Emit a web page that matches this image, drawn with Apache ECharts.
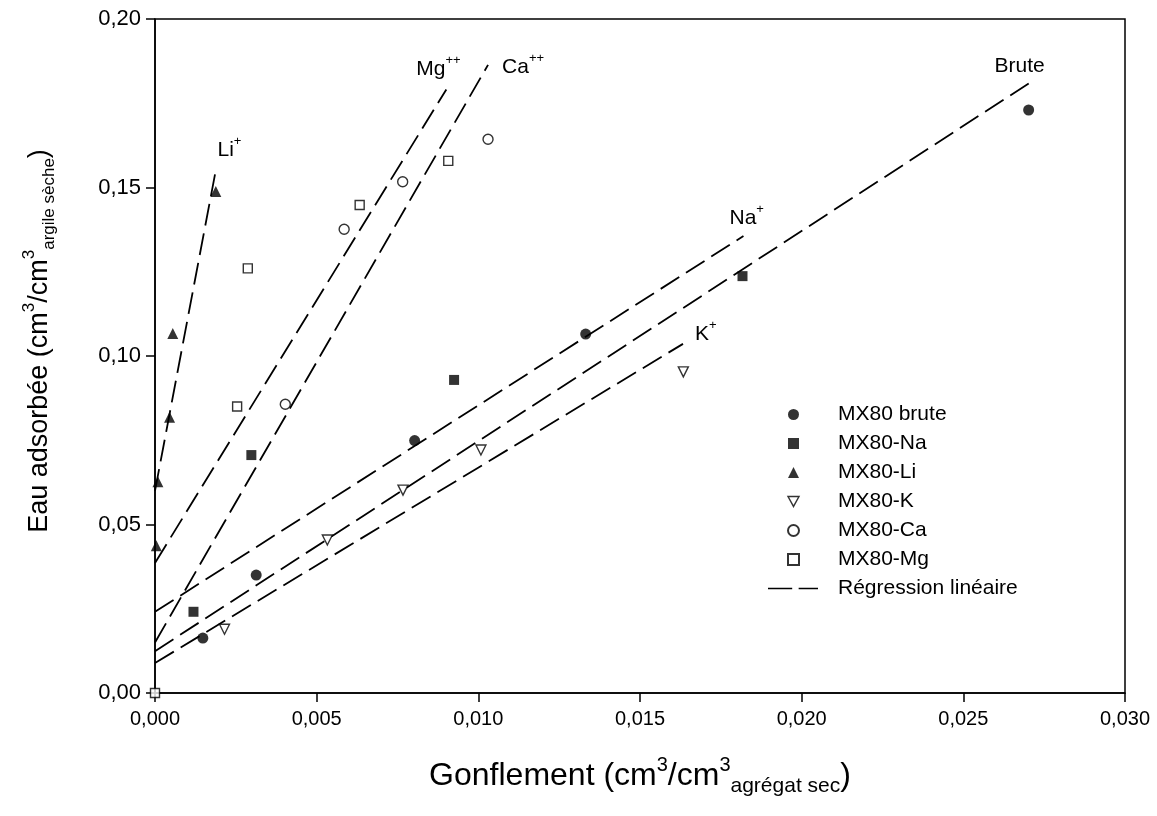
<!DOCTYPE html>
<html>
<head>
<meta charset="utf-8">
<script src="https://cdn.jsdelivr.net/npm/echarts@6/dist/echarts.min.js"></script>
<style>html,body{margin:0;padding:0;background:#fff}#c{width:1157px;height:816px}</style>
</head>
<body>
<div id="c"></div>
<script>
// --- data ---
const xTicks = [0, 0.005, 0.010, 0.015, 0.020, 0.025, 0.030];
const yTicks = [0, 0.05, 0.10, 0.15, 0.20];

const bruteData = [[0.00148,0.0163],[0.00313,0.0350],[0.00803,0.0749],[0.01332,0.1065],[0.02702,0.1730]];
const naData    = [[0.00119,0.0241],[0.00298,0.0706],[0.00925,0.0929],[0.01817,0.1237]];
const liData    = [[0.00004,0.0437],[0.00009,0.0627],[0.00045,0.0818],[0.00055,0.1067],[0.00188,0.1488]];
const kData     = [[0.00215,0.0189],[0.00533,0.0454],[0.00767,0.0602],[0.01008,0.0721],[0.01634,0.0953]];
const caData    = [[0.00403,0.0857],[0.00585,0.1376],[0.00766,0.1517],[0.01030,0.1643]];
const mgData    = [[0,0],[0.00254,0.0850],[0.00287,0.1260],[0.00633,0.1448],[0.00907,0.1579]];

// regression line endpoints (start, end)
const liFit    = [[0,0.0600],[0.00187,0.1546]];
const mgFit    = [[0,0.0386],[0.00901,0.1791]];
const caFit    = [[0,0.0150],[0.01030,0.1864]];
const naFit    = [[0,0.0241],[0.01820,0.1356]];
const bruteFit = [[0,0.0124],[0.02720,0.1820]];
const kFit     = [[0,0.0089],[0.01633,0.1036]];

const seriesNames = ['MX80 brute','MX80-Na','MX80-Li','MX80-K','MX80-Ca','MX80-Mg'];
const fitName = 'Régression linéaire';

const FONT = 'Liberation Sans, Arial, sans-serif';
const chart = echarts.init(document.getElementById('c'), null, {renderer:'canvas'});

function scatter(name, data, symbol, filled, size, rotate) {
  return {
    type:'scatter', name, data, symbol, symbolSize:size, symbolRotate: rotate||0,
    itemStyle: filled ? {color:'#000', borderColor:'#000', borderWidth:0}
                      : {color:'#fff', borderColor:'#000', borderWidth:1.4},
    z: 5
  };
}
const labelRich = {
  b:{fontSize:21, fontFamily:FONT, color:'#000', lineHeight:26, verticalAlign:'bottom'},
  s:{fontSize:13, fontFamily:FONT, color:'#000', lineHeight:26, verticalAlign:'top'}
};
function fit(data, label, offset) {
  return {
    type:'line', name: fitName, data, symbol:'none', silent:true,
    color:'#000',
    lineStyle:{color:'#000', width:1.8, type:[22,8]},
    z: 3,
    endLabel:{show:true, formatter: label, rich: labelRich, offset, distance:0, align:'left', verticalAlign:'middle'}
  };
}
const titleRich = (main, sup, sub) => ({
  sup:{fontSize:sup, fontFamily:FONT, color:'#000', verticalAlign:'top', lineHeight:main+10},
  sub:{fontSize:sub, fontFamily:FONT, color:'#000', verticalAlign:'bottom', lineHeight:main+10}
});
const legendText = {color:'#000', fontSize:21, fontFamily:FONT};

const option = {
  backgroundColor:'#fff',
  animation:false,
  grid:{left:155, right:32, top:19, bottom:123, show:true, borderColor:'#000', borderWidth:1.5, backgroundColor:'transparent'},
  xAxis:{
    type:'value', min:xTicks[0], max:xTicks[xTicks.length-1], interval:0.005,
    axisLine:{lineStyle:{color:'#000', width:1.5}},
    axisTick:{inside:false, length:9, lineStyle:{color:'#000', width:1.5}},
    splitLine:{show:false},
    axisLabel:{color:'#000', fontSize:20, fontFamily:FONT, margin:16,
      formatter:v=>v.toFixed(3).replace('.',',')},
    name:'Gonflement (cm{sup|3}/cm{sup|3}{sub|agrégat sec})',
    nameLocation:'middle', nameGap:62,
    nameTextStyle:{color:'#000', fontSize:32, fontFamily:FONT, rich:titleRich(32,20,21)}
  },
  yAxis:{
    type:'value', min:yTicks[0], max:yTicks[yTicks.length-1], interval:0.05,
    axisLine:{lineStyle:{color:'#000', width:1.5}},
    axisTick:{inside:false, length:9, lineStyle:{color:'#000', width:1.5}},
    splitLine:{show:false},
    axisLabel:{color:'#000', fontSize:22, fontFamily:FONT, margin:14,
      formatter:v=>v.toFixed(2).replace('.',',')},
    name:'Eau adsorbée (cm{sup|3}/cm{sup|3}{sub|argile sèche})',
    nameLocation:'middle', nameGap:97,
    nameTextStyle:{color:'#000', fontSize:27, fontFamily:FONT, rich:titleRich(27,17,17), padding:[0,0,0,30]}
  },
  legend:[
    {
      data: [
        {name:seriesNames[0]},
        {name:seriesNames[1]},
        {name:seriesNames[2]},
        {name:seriesNames[3], icon:'path://M0,0L10,0L5,9Z', itemStyle:{color:'#fff', borderColor:'#000', borderWidth:1.4}},
        {name:seriesNames[4]},
        {name:seriesNames[5]}
      ],
      orient:'vertical', left:782, top:399,
      itemWidth:11, itemHeight:11, itemGap:8,
      textStyle:Object.assign({padding:[0,0,0,34]}, legendText),
      selectedMode:false
    },
    {
      data:[{name:fitName, icon:'path://M0,0H30V2H0Z M38,0H62V2H38Z', itemStyle:{color:'#000', borderWidth:0}}],
      orient:'vertical', left:763, top:573,
      itemWidth:50, itemHeight:2,
      textStyle:Object.assign({padding:[0,0,0,15]}, legendText),
      selectedMode:false
    }
  ],
  series:[
    fit(liFit, '{b|Li}{s|+}', [2,-24]),
    fit(mgFit, '{b|Mg}{s|++}', [-30,-23]),
    fit(caFit, '{b|Ca}{s|++}', [14,0]),
    fit(naFit, '{b|Na}{s|+}', [-14,-20]),
    fit(bruteFit, '{b|Brute}', [-40,-16]),
    fit(kFit, '{b|K}{s|+}', [12,-12]),
    scatter(seriesNames[0], bruteData, 'circle', true, 11),
    scatter(seriesNames[1], naData, 'rect', true, 10),
    scatter(seriesNames[2], liData, 'triangle', true, 11),
    scatter(seriesNames[3], kData, 'triangle', false, 10, 180),
    scatter(seriesNames[4], caData, 'circle', false, 10),
    scatter(seriesNames[5], mgData, 'rect', false, 9)
  ]
};
chart.setOption(option);
</script>
</body>
</html>
